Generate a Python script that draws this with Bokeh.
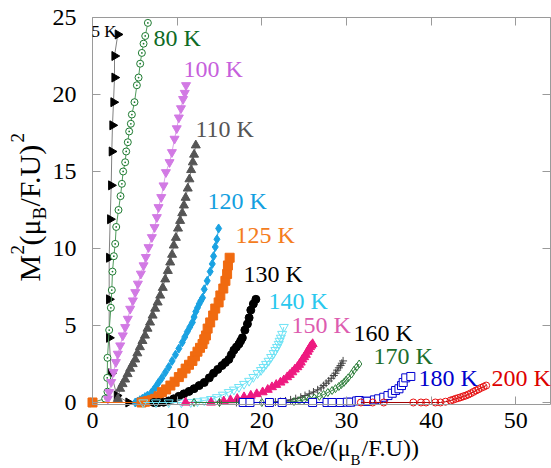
from math import pi
from bokeh.plotting import figure
from bokeh.models import Range1d, LinearAxis, Label, FixedTicker
from bokeh.embed import file_html
from bokeh.resources import INLINE

# ---------------- data ----------------
x_ticks = [0, 10, 20, 30, 40, 50]
y_ticks = [0, 5, 10, 15, 20, 25]

x_5K = [0.0, 4.25, 2.88, 2.21, 1.97, 1.97, 1.97, 2.09, 2.21, 2.28, 2.36, 2.48, 2.60, 2.60, 2.99]
y_5K = [0.0, 0.0, 0.45, 1.9, 4.2, 6.7, 9.4, 11.9, 14.1, 16.3, 18.0, 19.5, 21.1, 22.5, 23.9]

x_80K = [0, 1.5, 1.77, 1.74, 1.77, 1.97, 2.17, 2.28, 2.36, 2.52, 2.68, 2.80, 3.07, 3.31, 3.47,
         3.62, 3.86, 3.98, 4.17, 4.33, 4.53, 4.65, 4.96, 5.24, 5.44, 5.63, 5.83, 6.03, 6.23, 6.54]
y_80K = [0, 0.25, 0.7, 1.6, 2.9, 4.7, 6.15, 7.3, 8.5, 9.5, 10.3, 11.4, 12.5, 13.4, 14.2,
         15.0, 15.6, 16.3, 16.9, 17.6, 18.1, 18.7, 19.5, 20.6, 21.1, 22.0, 22.7, 23.3, 23.8, 24.65]

x_100K = [1.81, 1.97, 2.21, 2.48, 2.76, 2.99, 3.27, 3.58, 3.86, 4.17, 4.45, 4.77, 5.05, 5.36, 5.71,
          6.03, 6.30, 6.62, 7.01, 7.33, 7.60, 7.80, 8.12, 8.39, 8.67, 9.10, 9.38, 9.69, 9.95, 10.2,
          10.45, 10.7, 10.9, 11.05]
y_100K = [0.24, 0.67, 1.32, 1.97, 2.62, 3.16, 3.70, 4.35, 4.89, 5.43, 6.08, 6.62, 7.16, 7.71, 8.36,
          8.90, 9.44, 10.08, 10.73, 11.38, 12.03, 12.68, 13.33, 14.09, 14.95, 15.6, 16.25, 17.12, 17.8, 18.5,
          19.1, 19.7, 20.1, 20.6]

x_110K = [2.99, 3.27, 3.55, 3.86, 4.15, 4.45, 4.75, 5.05, 5.30, 5.60, 5.90, 6.20, 6.50, 6.80, 7.10,
          7.40, 7.70, 8.00, 8.30, 8.59, 8.90, 9.18, 9.40, 9.60, 9.85, 10.10, 10.35, 10.60, 10.80, 11.00,
          11.25, 11.45, 11.65, 11.85, 12.00, 12.20]
y_110K = [0.24, 0.90, 1.20, 1.50, 1.85, 2.20, 2.50, 2.80, 3.20, 3.60, 4.00, 4.35, 4.80, 5.20, 5.65,
          6.10, 6.50, 6.95, 7.45, 8.00, 8.55, 9.10, 9.60, 10.20, 10.70, 11.30, 11.80, 12.30, 12.80, 13.30,
          13.90, 14.50, 15.10, 15.60, 16.10, 16.70]

x_120K = [5.05, 5.30, 5.60, 5.90, 6.20, 6.50, 6.90, 7.20, 7.45, 7.80, 8.20, 8.60, 9.00, 9.40, 9.80,
          10.20, 10.60, 10.90, 11.20, 11.50, 11.80, 12.00, 12.20, 12.40, 12.60, 12.80, 13.00, 13.20, 13.55,
          13.90, 14.15, 14.30, 14.50, 14.70, 14.90]
y_120K = [0.00, 0.05, 0.15, 0.25, 0.35, 0.45, 0.60, 0.80, 1.00, 1.30, 1.60, 1.95, 2.30, 2.70, 3.10,
          3.50, 3.90, 4.25, 4.60, 4.90, 5.20, 5.55, 5.90, 6.15, 6.40, 6.60, 6.80, 7.35, 7.90,
          8.50, 9.00, 9.50, 10.10, 10.60, 11.30]

x_125K = [0.0, 5.80, 6.20, 6.60, 7.00, 7.40, 7.80, 8.20, 8.70, 9.20, 9.70, 10.20, 10.60, 11.00, 11.40,
          11.80, 12.10, 12.40, 12.70, 13.00, 13.20, 13.40, 13.60, 13.90, 14.25, 14.50, 14.90, 15.10, 15.45,
          15.70, 15.90, 16.00, 16.20]
y_125K = [0.0, 0.00, 0.05, 0.10, 0.15, 0.24, 0.40, 0.67, 0.85, 1.10, 1.35, 1.65, 1.90, 2.20, 2.45,
          2.70, 3.00, 3.30, 3.55, 3.80, 4.10, 4.35, 4.80, 5.20, 5.65, 6.10, 6.50, 6.95, 7.40,
          7.90, 8.35, 8.90, 9.40]

x_130K = [7.25, 7.80, 8.40, 9.00, 9.60, 10.20, 10.80, 11.40, 12.00, 12.60, 13.20, 13.80, 14.30, 14.80,
          15.30, 15.70, 16.10, 16.40, 16.70, 17.00, 17.30, 17.50, 17.70, 18.00, 18.30, 18.50, 18.70, 19.00, 19.30]
y_130K = [0.00, 0.00, 0.02, 0.10, 0.24, 0.40, 0.56, 0.72, 0.90, 1.10, 1.30, 1.60, 1.90, 2.15,
          2.40, 2.60, 2.80, 3.10, 3.40, 3.60, 3.80, 4.00, 4.20, 4.70, 5.10, 5.50, 6.00, 6.40, 6.70]

x_140K = [6.00, 7.50, 9.00, 10.50, 11.60, 12.40, 13.20, 14.00, 14.70, 15.40, 16.10, 16.70, 17.30, 17.90, 18.50,
          19.00, 19.50, 19.90, 20.20, 20.50, 20.80, 21.10, 21.40, 21.60, 21.80, 22.00, 22.10, 22.25, 22.40, 22.60]
y_140K = [0.00, 0.00, 0.00, 0.00, 0.02, 0.07, 0.13, 0.22, 0.34, 0.50, 0.67, 0.83, 1.00, 1.20, 1.40,
          1.65, 1.90, 2.10, 2.30, 2.50, 2.70, 2.95, 3.20, 3.40, 3.60, 3.80, 4.00, 4.20, 4.45, 4.90]

x_150K = [11.00, 14.00, 15.50, 16.30, 17.10, 17.90, 18.70, 19.40, 20.10, 20.70, 21.20, 21.70, 22.20, 22.60, 23.00,
          23.30, 23.60, 23.90, 24.20, 24.40, 24.60, 24.80, 25.00, 25.20, 25.40, 25.55, 25.70, 25.85, 26.00]
y_150K = [0.00, 0.00, 0.08, 0.15, 0.24, 0.35, 0.45, 0.55, 0.67, 0.83, 1.00, 1.15, 1.30, 1.45, 1.65,
          1.80, 1.97, 2.15, 2.30, 2.45, 2.60, 2.80, 2.95, 3.10, 3.30, 3.45, 3.60, 3.70, 3.80]

x_160K = [15.00, 17.00, 19.00, 21.00, 21.60, 22.20, 22.80, 23.40, 24.00, 24.60, 25.10, 25.60, 26.10,
          26.60, 27.00, 27.30, 27.60, 27.90, 28.20, 28.50, 28.70, 28.90, 29.10, 29.30, 29.45, 29.60]
y_160K = [0.00, 0.00, 0.00, 0.00, 0.03, 0.06, 0.10, 0.17, 0.25, 0.34, 0.45, 0.56, 0.68,
          0.82, 0.95, 1.10, 1.25, 1.40, 1.57, 1.75, 1.90, 2.10, 2.25, 2.40, 2.55, 2.70]

x_170K = [12.00, 15.00, 17.50, 20.00, 22.60, 23.80, 24.40, 25.00, 25.60, 26.20, 26.80, 27.30,
          27.80, 28.30, 28.70, 29.10, 29.40, 29.70, 29.95, 30.20, 30.60, 30.90, 31.20, 31.50]
y_170K = [0.00, 0.00, 0.00, 0.00, 0.02, 0.06, 0.11, 0.17, 0.23, 0.30, 0.40, 0.52,
          0.65, 0.78, 0.90, 1.04, 1.17, 1.30, 1.45, 1.60, 1.85, 2.10, 2.30, 2.50]

x_180K = [17.80, 18.60, 20.90, 22.40, 26.00, 27.70, 28.30, 29.30, 30.10, 30.50, 31.20, 31.50, 32.30,
          32.50, 33.30, 33.80, 34.40, 34.90, 35.40, 35.80, 36.20, 36.50, 36.70, 37.00, 37.60]
y_180K = [0.00, 0.00, 0.00, 0.00, 0.00, 0.00, 0.00, 0.00, 0.02, 0.02, 0.10, 0.13, 0.08,
          0.08, 0.17, 0.24, 0.34, 0.45, 0.60, 0.78, 0.89, 1.10, 1.30, 1.60, 1.69]

x_200K = [31.70, 33.10, 34.40, 37.90, 38.80, 39.40, 40.50, 41.10, 41.70, 42.30, 42.60, 42.90,
          43.20, 43.50, 43.80, 44.10, 44.40, 44.70, 45.00, 45.30, 45.60, 45.90, 46.20, 46.50]
y_200K = [0.00, 0.00, 0.00, 0.00, 0.00, 0.00, 0.00, 0.00, 0.05, 0.13, 0.18, 0.24,
          0.29, 0.34, 0.40, 0.45, 0.52, 0.60, 0.69, 0.78, 0.86, 0.95, 1.02, 1.10]

series_names = ["5 K", "80 K", "100 K", "110 K", "120 K", "125 K", "130 K",
                "140 K", "150 K", "160 K", "170 K", "180 K", "200 K"]

# ---------------- layout ----------------
W, H = 551, 468
FL, FR, FT, FB = 92, 550, 17, 404          # plot-box edges in pixels
X0, X1 = 0.0, 54.1                         # data limits of the plot box
Y0, Y1 = -0.13, 25.0
FONT = "Liberation Serif"
AX = "#9a9a9a"


def dx(px):
    return X0 + (px - FL) * (X1 - X0) / (FR - FL)


def dy(py):
    return Y0 + (FB - py) * (Y1 - Y0) / (FB - FT)


# the drawing frame spans the whole canvas so that outer texts are not clipped;
# the axes are fixed at the edges of the plot box
p = figure(width=W, height=H,
           x_range=Range1d(dx(0), dx(W)), y_range=Range1d(dy(H), dy(0)),
           x_axis_location=None, y_axis_location=None,
           output_backend="svg", toolbar_location=None,
           min_border=0, min_border_left=0, min_border_right=0,
           min_border_top=0, min_border_bottom=0)
p.grid.visible = False
p.outline_line_color = None
p.background_fill_color = "white"
p.border_fill_color = "white"

bottom_axis = LinearAxis(fixed_location=Y0, bounds=(X0, X1))
top_axis = LinearAxis(fixed_location=Y1, bounds=(X0, X1))
left_axis = LinearAxis(fixed_location=X0, bounds=(Y0, Y1))
right_axis = LinearAxis(fixed_location=X1, bounds=(Y0, Y1))
p.add_layout(bottom_axis, "below")
p.add_layout(top_axis, "above")
p.add_layout(left_axis, "left")
p.add_layout(right_axis, "right")

for ax in [bottom_axis, top_axis]:
    ax.ticker = FixedTicker(ticks=x_ticks)
    ax.major_label_overrides = {t: "" for t in x_ticks}
for ax in [left_axis, right_axis]:
    ax.ticker = FixedTicker(ticks=y_ticks)
    ax.major_label_overrides = {t: "" for t in y_ticks}

for ax in [bottom_axis, left_axis, top_axis, right_axis]:
    ax.axis_line_color = AX
    ax.axis_line_width = 1
    ax.major_tick_line_color = AX
    ax.major_tick_in = 8
    ax.major_tick_out = 0
    ax.minor_tick_line_color = None

# tick labels (serif), placed at the tick values
for t in x_ticks:
    p.add_layout(Label(x=t, y=dy(420), text=str(t), text_color="black",
                       text_font=FONT, text_font_size="24px",
                       text_align="center", text_baseline="middle"))
for t in y_ticks:
    p.add_layout(Label(x=dx(76), y=t, text=str(t), text_color="black",
                       text_font=FONT, text_font_size="24px",
                       text_align="right", text_baseline="middle"))

# ---------------- series ----------------
styles = [
    # xs, ys, marker, size, fill, marker line, curve line, angle
    (x_5K, y_5K, "triangle", 9, "black", "black", "#808080", -pi / 2),
    (x_80K, y_80K, "circle_dot", 7, "white", "#1d7a30", "#4f9a5c", 0),
    (x_100K, y_100K, "inverted_triangle", 9, "#d27ae4", "#d27ae4", "#dca2ea", 0),
    (x_110K, y_110K, "triangle", 9, "#555555", "#555555", "#888888", 0),
    (x_120K, y_120K, "diamond", 9, "#1aa2e2", "#1aa2e2", "#1aa2e2", 0),
    (x_125K, y_125K, "square", 9, "#f06a10", "#f06a10", "#f06a10", 0),
    (x_130K, y_130K, "circle", 8, "black", "black", "black", 0),
    (x_140K, y_140K, "inverted_triangle", 9, None, "#6fe3f5", "#6fe3f5", 0),
    (x_150K, y_150K, "triangle", 9, "#ee1a80", "#ee1a80", "#ee1a80", 0),
    (x_160K, y_160K, "cross", 8, None, "#444444", "#444444", 0),
    (x_170K, y_170K, "diamond", 8, None, "#2f7f3c", "#2f7f3c", 0),
    (x_180K, y_180K, "square", 8, "white", "#0000d0", "#0000d0", 0),
    (x_200K, y_200K, "circle", 7, None, "#e81010", "#a00000", 0),
]

for xs, ys, mk, sz, fill, mline, cline, ang in styles:
    p.line(xs, ys, line_color=cline, line_width=1)
    p.scatter(xs, ys, marker=mk, size=sz, fill_color=fill, line_color=mline,
              line_width=1, angle=ang)

# ---------------- series labels ----------------
label_pos = [  # (left px, centre py, colour, font px)
    (91, 31, "black", 17),
    (153, 37, "#0e6b26", 24),
    (183, 68, "#c65fdc", 24),
    (195, 128, "#555555", 24),
    (207, 200, "#139fe0", 24),
    (235, 234, "#f47c20", 24),
    (243, 273, "black", 24),
    (268, 300, "#29c8ee", 24),
    (291, 324, "#dd5caf", 24),
    (353, 332, "black", 24),
    (373, 355, "#1b6e2d", 24),
    (418, 377, "#0000cc", 24),
    (491, 377, "#dd0000", 24),
]
for name, (lx, ly, col, fs) in zip(series_names, label_pos):
    p.add_layout(Label(x=dx(lx), y=dy(ly), text=name, text_color=col,
                       text_font=FONT, text_font_size=f"{fs}px",
                       text_align="left", text_baseline="middle"))


# ---------------- axis titles ----------------
def piece(text, px, py, size, align="left", angle=0.0):
    p.add_layout(Label(x=dx(px), y=dy(py), text=text, text_color="black",
                       text_font=FONT, text_font_size=f"{size}px",
                       text_align=align, text_baseline="middle", angle=angle))


# x title: H/M (kOe/(μ_B/F.U))
piece("H/M (kOe/(\u03bc", 350, 447, 24, align="right")
piece("B", 350, 459, 15)
piece("/F.U))", 361, 447, 24)

# y title: M²(μ_B/F.U)²  (rotated)
piece("M", 29, 281, 30, angle=pi / 2)
piece("2", 17, 254, 19, angle=pi / 2)
piece("(\u03bc", 29, 245, 30, angle=pi / 2)
piece("B", 39, 219, 19, angle=pi / 2)
piece("/F.U)", 29, 206, 30, angle=pi / 2)
piece("2", 17, 142, 19, angle=pi / 2)

open("out.html", "w").write(file_html(p, INLINE))
